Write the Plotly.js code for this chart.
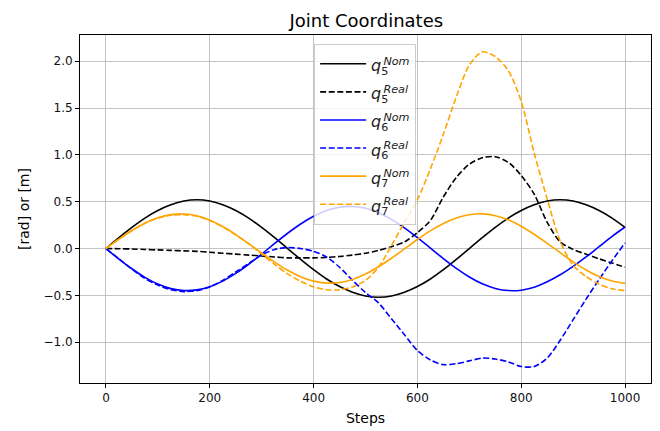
<!DOCTYPE html>
<html>
<head>
<meta charset="utf-8">
<script src="https://cdn.plot.ly/plotly-3.0.1.min.js"></script>
<style>html,body{margin:0;padding:0;background:#fff;}#chart{width:660px;height:431px;}</style>
</head>
<body>
<div id="chart"></div>
<script>
const steps = [0,25,50,75,100,125,150,175,200,225,250,275,300,325,350,375,400,425,450,475,500,525,550,575,600,625,650,675,700,725,750,775,800,825,850,875,900,925,950,975,1000];

const q5Nom = [0,0.116,0.226,0.325,0.406,0.467,0.507,0.52,0.507,0.467,0.406,0.325,0.226,0.116,0,-0.116,-0.226,-0.325,-0.406,-0.467,-0.507,-0.52,-0.507,-0.467,-0.406,-0.325,-0.226,-0.116,0,0.116,0.226,0.325,0.406,0.467,0.507,0.52,0.507,0.467,0.406,0.325,0.226];
const q5Real = [0,-0.002,-0.005,-0.01,-0.015,-0.02,-0.025,-0.03,-0.04,-0.05,-0.06,-0.07,-0.08,-0.09,-0.1,-0.1,-0.1,-0.095,-0.085,-0.07,-0.05,-0.02,0.02,0.07,0.17,0.3,0.55,0.76,0.9,0.97,0.98,0.92,0.78,0.58,0.28,0.07,-0.01,-0.06,-0.11,-0.155,-0.2];
const q6Nom = [0,-0.112,-0.216,-0.308,-0.38,-0.428,-0.449,-0.442,-0.408,-0.348,-0.266,-0.168,-0.059,0.054,0.163,0.262,0.345,0.406,0.441,0.449,0.429,0.381,0.311,0.221,0.116,0.005,-0.107,-0.212,-0.304,-0.377,-0.426,-0.449,-0.445,-0.413,-0.355,-0.28,-0.19,-0.09,0.02,0.13,0.23];
const q6Real = [0,-0.11,-0.22,-0.32,-0.39,-0.44,-0.46,-0.45,-0.41,-0.34,-0.25,-0.16,-0.07,-0.01,0.01,0,-0.03,-0.09,-0.2,-0.34,-0.47,-0.58,-0.75,-0.92,-1.09,-1.19,-1.24,-1.23,-1.2,-1.17,-1.18,-1.21,-1.26,-1.26,-1.17,-0.98,-0.76,-0.54,-0.33,-0.13,0.06];
const q7Nom = [0,0.1,0.192,0.27,0.328,0.362,0.369,0.349,0.303,0.235,0.149,0.052,-0.048,-0.145,-0.232,-0.301,-0.348,-0.369,-0.363,-0.33,-0.273,-0.195,-0.104,-0.004,0.096,0.188,0.267,0.326,0.361,0.37,0.35,0.306,0.238,0.152,0.056,-0.044,-0.142,-0.229,-0.299,-0.347,-0.372];
const q7Real = [0,0.1,0.19,0.27,0.325,0.355,0.36,0.345,0.3,0.23,0.145,0.05,-0.06,-0.17,-0.27,-0.35,-0.41,-0.44,-0.44,-0.41,-0.34,-0.2,0.03,0.28,0.52,0.85,1.22,1.62,1.96,2.1,2.05,1.9,1.57,1.02,0.53,0.08,-0.18,-0.3,-0.38,-0.43,-0.45];

const labelBase = ['5','5','6','6','7','7'];
const labelSup = ['Nom','Real','Nom','Real','Nom','Real'];
const names = labelBase.map((b, i) =>
  '<span style="font-size:16px"><i>q</i><sub><span style="letter-spacing:-5px">' + b +
  '</span></sub><sup><i>' + labelSup[i] + '</i></sup></span>');
const series = [q5Nom, q5Real, q6Nom, q6Real, q7Nom, q7Real];
const colors = ['#000000','#000000','#0000ff','#0000ff','#ffa500','#ffa500'];
const dashes = ['solid','6px,2.6px','solid','6px,2.6px','solid','6px,2.6px'];

const traces = series.map((ys, i) => ({
  x: steps, y: ys, name: names[i], type: 'scatter', mode: 'lines',
  line: {color: colors[i], width: 1.6, dash: dashes[i], shape: 'spline', smoothing: 0.8}
}));

const axisCommon = {
  showline: true, linecolor: '#000', linewidth: 1, mirror: true,
  ticks: 'outside', ticklen: 4, tickcolor: '#000', tickwidth: 1,
  showgrid: true, gridcolor: '#c4c4c4', gridwidth: 1, zeroline: false,
  tickfont: {family: 'DejaVu Sans', size: 12, color: '#111'}
};

const layout = {
  width: 660, height: 431,
  margin: {l: 80, r: 9, t: 35, b: 48},
  paper_bgcolor: '#fff', plot_bgcolor: '#fff',
  title: {text: 'Joint Coordinates', font: {family: 'DejaVu Sans', size: 18, color: '#000'}, x: 0.555, xanchor: 'center', y: 0.953, yanchor: 'middle'},
  xaxis: Object.assign({}, axisCommon, {range: [-50, 1050], tickvals: [0,200,400,600,800,1000],
    title: {text: 'Steps', font: {family: 'DejaVu Sans', size: 14, color: '#000'}, standoff: 8}}),
  yaxis: Object.assign({}, axisCommon, {range: [-1.436, 2.28], tickvals: [-1.0,-0.5,0,0.5,1.0,1.5,2.0], ticktext: ['\u22121.0','\u22120.5','0.0','0.5','1.0','1.5','2.0'],
    title: {text: '[rad] or [m]', font: {family: 'DejaVu Sans', size: 14, color: '#000'}, standoff: 10}}),
  showlegend: true,
  legend: {x: 0.41, y: 0.975, xanchor: 'left', yanchor: 'top', bgcolor: 'rgba(255,255,255,0.8)', bordercolor: '#cccccc', borderwidth: 1,
    font: {family: 'DejaVu Sans', size: 19.3, color: '#222'}, itemwidth: 46, tracegroupgap: 0}
};

Plotly.newPlot('chart', traces, layout, {displayModeBar: false, staticPlot: true});
</script>
</body>
</html>
